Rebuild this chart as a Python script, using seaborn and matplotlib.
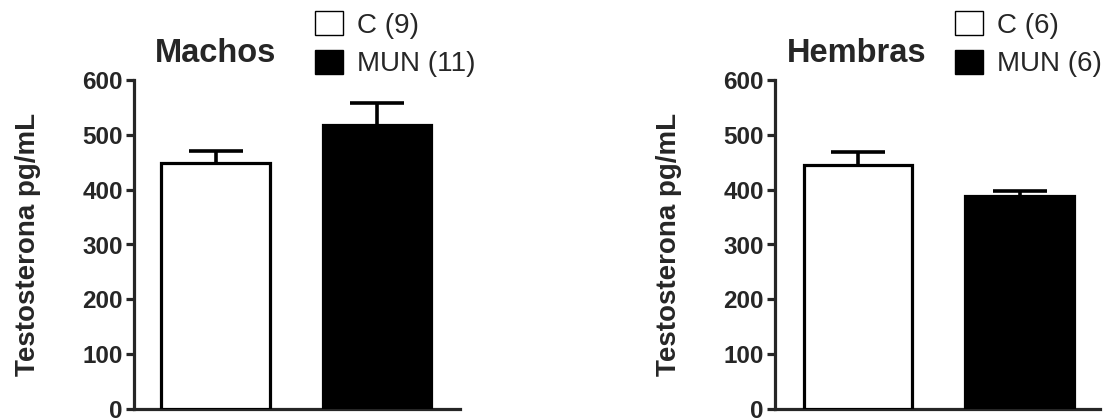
import matplotlib
matplotlib.use('Agg')
import matplotlib.pyplot as plt
import seaborn as sns
import pandas as pd

grupos = ['C', 'MUN']
machos_media = [449, 518]
machos_sem = [21, 40]
machos_n = [9, 11]
hembras_media = [445, 389]
hembras_sem = [24, 9]
hembras_n = [6, 6]
y_ticks = [0, 100, 200, 300, 400, 500, 600]

sns.set_style('ticks')
plt.rcParams['font.family'] = ['Liberation Sans', 'DejaVu Sans']

fig = plt.figure(figsize=(11.05, 4.19), dpi=100)
ax1 = fig.add_axes([134 / 1105, 1 - 409 / 419, 326 / 1105, 329 / 419])
ax2 = fig.add_axes([775 / 1105, 1 - 409 / 419, 325 / 1105, 329 / 419])


def panel(ax, medias, sems, ns, titulo, xlim, leg_x):
    df = pd.DataFrame({'grupo': grupos, 'valor': medias})
    sns.barplot(data=df, x='grupo', y='valor', hue='grupo',
                palette=['white', 'black'], edgecolor='black',
                linewidth=2.3, width=0.67, legend=False, ax=ax, zorder=3)
    # error simetrico detras de la barra: solo se ve la mitad superior
    ax.errorbar(range(len(grupos)), medias, yerr=sems,
                fmt='none', ecolor='black', elinewidth=2.6, capsize=19.5,
                capthick=2.6, zorder=2)
    ax.set_ylim(0, 600)
    ax.set_xlim(*xlim)
    ax.set_yticks(y_ticks)
    ax.set_xticks([])
    ax.set_xlabel('')
    ax.set_ylabel('Testosterona pg/mL', fontsize=20, fontweight='bold', labelpad=30)
    for lab in ax.get_yticklabels():
        lab.set_fontweight('bold')
    ax.tick_params(axis='y', labelsize=17.5, width=2.3, length=6, pad=2)
    for s in ['left', 'bottom']:
        ax.spines[s].set_linewidth(2.3)
    sns.despine(ax=ax)
    ax.set_title(titulo, fontsize=23.5, fontweight='bold', x=0.25, y=1.03)
    handles = [plt.Rectangle((0, 0), 1, 1, facecolor=c, edgecolor='black', linewidth=1)
               for c in ['white', 'black']]
    labels = [f'{g} ({n})' for g, n in zip(grupos, ns)]
    ax.legend(handles, labels, loc='upper left', frameon=False,
              bbox_to_anchor=(leg_x / 1105, 1 - 11 / 419), bbox_transform=fig.transFigure,
              fontsize=20, handlelength=1.0, handleheight=0.95, handletextpad=0.5,
              labelspacing=0.4, borderpad=0, borderaxespad=0)


panel(ax1, machos_media, machos_sem, machos_n, 'Machos', (-0.505, 1.514), 315)
panel(ax2, hembras_media, hembras_sem, hembras_n, 'Hembras', (-0.514, 1.498), 955)

fig.savefig('out.png', dpi=100)
